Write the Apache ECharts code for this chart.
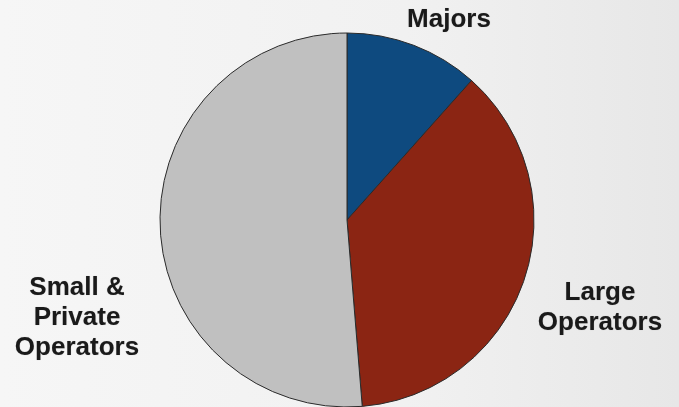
<!DOCTYPE html>
<html>
<head>
<meta charset="utf-8">
<script src="https://cdn.jsdelivr.net/npm/echarts@6/dist/echarts.min.js"></script>
<style>
  html, body { margin: 0; padding: 0; }
  #chart { width: 679px; height: 407px; }
</style>
</head>
<body>
<div id="chart"></div>
<script>
// Operator groups and their share (%)
const categories = ['Majors', 'Large\nOperators', 'Small &\nPrivate\nOperators'];
const shares = [11.6, 37.1, 51.3];
const colors = ['#0e4a7f', '#8b2513', '#c0c0c0'];

// Label anchor points (pixel centres) for each slice's text
const labelSpots = [
  { x: 449, y: 20 },
  { x: 600, y: 308 },
  { x: 77, y: 318 }
];

const chart = echarts.init(document.getElementById('chart'));
chart.setOption({
  backgroundColor: {
    type: 'linear', x: 0, y: 0, x2: 1, y2: 0,
    colorStops: [
      { offset: 0, color: '#f6f6f6' },
      { offset: 0.6, color: '#f1f1f1' },
      { offset: 1, color: '#e7e7e7' }
    ]
  },
  animation: false,
  series: [{
    type: 'pie',
    center: [347, 220],
    radius: 187,
    startAngle: 90,
    clockwise: true,
    silent: true,
    itemStyle: { borderColor: '#2b2b2b', borderWidth: 1 },
    label: {
      show: true,
      position: 'outside',
      formatter: '{b}',
      fontFamily: 'Liberation Sans, Arial, sans-serif',
      fontWeight: 'bold',
      fontSize: 26,
      lineHeight: 30,
      color: '#1a1a1a',
      align: 'center',
      width: 200,
      overflow: 'none',
      textShadowColor: 'rgba(0,0,0,0.25)',
      textShadowBlur: 1
    },
    labelLine: { show: false },
    labelLayout: function (params) {
      const p = labelSpots[params.dataIndex];
      return { x: p.x, y: p.y, align: 'center', verticalAlign: 'middle' };
    },
    data: categories.map((name, i) => ({
      name: name,
      value: shares[i],
      itemStyle: { color: colors[i] }
    }))
  }]
});
</script>
</body>
</html>
